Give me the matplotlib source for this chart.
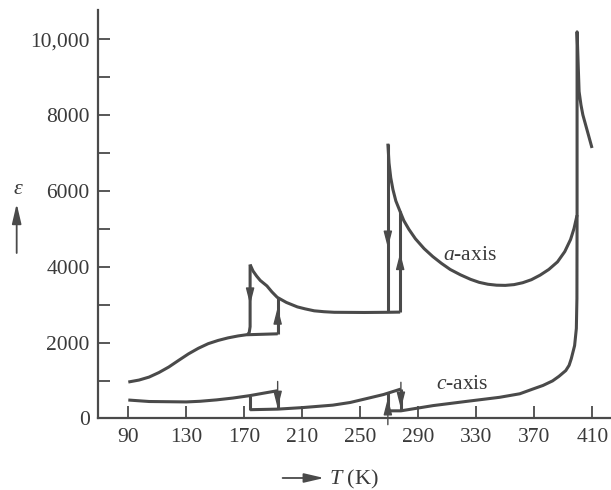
import matplotlib
matplotlib.use("Agg")
import matplotlib.pyplot as plt
from matplotlib.ticker import FixedLocator, FuncFormatter

plt.rcParams['font.family'] = ['Liberation Serif', 'DejaVu Serif']
plt.rcParams['mathtext.fontset'] = 'custom'
plt.rcParams['mathtext.rm'] = 'Liberation Serif'
plt.rcParams['mathtext.it'] = 'Liberation Serif:italic'

# ---------------- data ----------------
# a-axis: low-temperature branch + flat step (heating)
a_low_T   = [90, 97.4, 104.3, 111.1, 117.9, 124.7, 131.5, 138.3, 145.1, 152, 158.8, 165.7, 171.4, 193.0]
a_low_eps = [960, 1012, 1090, 1210, 1356, 1531, 1703, 1850, 1972, 2058, 2125, 2176, 2207, 2232]
# a-axis: cooling drop near 174 K
a_drop1_T   = [174.0, 174.0, 173.4, 172.3]
a_drop1_eps = [4060, 2420, 2270, 2212]
# a-axis: heating jump at 193 K
a_jump1_T   = [193.0, 193.0]
a_jump1_eps = [2232, 3195]
# a-axis: middle branch (174 K peak down to plateau)
a_mid_T   = [174.0, 176.0, 178.5, 181.0, 185.6, 189.0, 192.7, 199.0, 206.6, 212.0,
             218.2, 225.0, 232.0, 252.8, 269.0, 277.5]
a_mid_eps = [4060, 3890, 3755, 3640, 3496, 3340, 3195, 3060, 2942, 2890,
             2839, 2815, 2800, 2795, 2800, 2805]
# a-axis: cooling drop at 269 K (vertical up to peak)
a_drop2_T   = [269.0, 269.0]
a_drop2_eps = [2800, 7250]
# a-axis: heating jump at 277.5 K
a_jump2_T   = [277.5, 277.5]
a_jump2_eps = [2805, 5473]
# a-axis: tetragonal branch up to the Curie peak and beyond
a_high_T   = [269.0, 269.8, 271.0, 272.5, 274.5, 277.3, 280.0, 283.5, 288.0, 294.0, 300.0,
              306.0, 312.0, 319.0, 326.0, 332.0, 338.0, 344.0, 350.0, 356.0, 362.0,
              368.0, 374.0, 380.0, 386.0, 391.0, 395.0, 397.4, 399.5, 399.5,
              400.9, 402.2, 403.5, 407.3, 409.8]
a_high_eps = [7250, 6741, 6350, 6040, 5740, 5473, 5220, 4990, 4740, 4480, 4270,
              4090, 3930, 3790, 3670, 3590, 3540, 3515, 3510, 3530, 3580,
              3660, 3780, 3930, 4130, 4400, 4720, 5011, 5364, 10200,
              8623, 8269, 8008, 7483, 7135]

# c-axis: low-temperature branch (90-193 K)
c_low_T   = [90, 104.4, 116.2, 130, 139.5, 150.9, 162.1, 173.6, 182.7, 193.0]
c_low_eps = [485, 446, 441, 435, 452, 489, 537, 600, 662, 731]
c_drop1_T, c_drop1_eps = [193.0, 193.0], [731, 245]
c_jump1_T, c_jump1_eps = [174.0, 174.0], [230, 600]
# c-axis: middle branch (174-278 K)
c_mid_T   = [174, 193, 210, 231, 243, 254, 266, 278]
c_mid_eps = [230, 245, 285, 350, 420, 520, 630, 775]
c_jump2_T, c_jump2_eps = [269.0, 269.0], [200, 660]
c_drop2_T, c_drop2_eps = [278.0, 278.0], [775, 200]
# c-axis: high-temperature branch
c_high_T   = [269, 278, 300.2, 323.2, 346.1, 360.0, 369.0, 376.0, 382.6, 387.0, 391.7,
              394.0, 395.5, 397.8, 399.0, 399.4, 399.5]
c_high_eps = [200, 200, 338, 449, 557, 650, 775, 870, 990, 1110, 1262,
              1400, 1575, 1921, 2372, 3166, 5364]

# arrow heads: (T, tip eps, direction)
arrow_T   = [174.0, 193.0, 269.0, 277.5, 193.0, 269.0, 278.0]
arrow_eps = [3000, 2930, 4500, 4370, 275, 535, 253]
arrow_dir = [-1, 1, -1, 1, -1, 1, -1]

x_ticks = [90, 130, 170, 210, 250, 290, 330, 370, 410]
y_major = [0, 2000, 4000, 6000, 8000, 10000]
y_minor = [1000, 3000, 5000, 7000, 9000]

# ---------------- figure ----------------
col = '#4a4a4a'
fig = plt.figure(figsize=(6.11, 4.90), dpi=100)
ax = fig.add_axes([0.1604, 0.1461, 0.8396, 0.8335])
ax.set_xlim(69.1, 422.9)
ax.set_ylim(0, 10776)

lw = 2.2
segments = [
    (a_low_T, a_low_eps), (a_drop1_T, a_drop1_eps), (a_jump1_T, a_jump1_eps),
    (a_mid_T, a_mid_eps), (a_drop2_T, a_drop2_eps), (a_jump2_T, a_jump2_eps),
    (a_high_T, a_high_eps),
    (c_low_T, c_low_eps), (c_drop1_T, c_drop1_eps), (c_jump1_T, c_jump1_eps),
    (c_mid_T, c_mid_eps), (c_jump2_T, c_jump2_eps), (c_drop2_T, c_drop2_eps),
    (c_high_T, c_high_eps),
]
for xs, ys in segments:
    ax.plot(xs, ys, color=col, lw=lw, solid_capstyle='butt', solid_joinstyle='round')

for t, e, d in zip(arrow_T, arrow_eps, arrow_dir):
    ax.annotate('', xy=(t, e), xytext=(t, e - d * 700),
                arrowprops=dict(arrowstyle='-|>,head_length=1.25,head_width=0.32',
                                mutation_scale=8, color=col, lw=1.0,
                                shrinkA=0, shrinkB=0))

ax.text(325.7, 4311, r'$a$-axis', fontsize=15.5, color='#3a3a3a', ha='center', va='center')
ax.text(320, 900, r'$c$-axis', fontsize=15.5, color='#3a3a3a', ha='center', va='center')

# axes styling
for s in ['top', 'right']:
    ax.spines[s].set_visible(False)
for s in ['left', 'bottom']:
    ax.spines[s].set_color(col)
    ax.spines[s].set_linewidth(1.6)

ax.xaxis.set_major_locator(FixedLocator(x_ticks))
ax.yaxis.set_major_locator(FixedLocator(y_major))
ax.yaxis.set_minor_locator(FixedLocator(y_minor))
ax.yaxis.set_major_formatter(FuncFormatter(lambda v, p: '10,000' if v >= 10000 else f'{int(v)}'))
ax.tick_params(axis='both', which='both', direction='in', length=8.5, width=1.3,
               colors=col, labelcolor='#3a3a3a', labelsize=15.5)
ax.tick_params(axis='x', pad=7)
ax.tick_params(axis='y', pad=6)

# axis labels with arrows
fig.text(0.0295, 0.614, 'ε', fontsize=16, style='italic', color='#3a3a3a',
         ha='center', va='center')
fig.patches.append(matplotlib.patches.FancyArrowPatch(
    (0.0273, 0.478), (0.0273, 0.590), transform=fig.transFigure,
    arrowstyle='-|>,head_length=1.5,head_width=0.35', mutation_scale=8,
    color=col, lw=1.3))
fig.patches.append(matplotlib.patches.FancyArrowPatch(
    (0.458, 0.0245), (0.535, 0.0245), transform=fig.transFigure,
    arrowstyle='-|>,head_length=1.5,head_width=0.35', mutation_scale=8,
    color=col, lw=1.3))
fig.text(0.539, 0.022, r'$T$ (K)', fontsize=16, color='#3a3a3a', ha='left', va='center')

fig.savefig('out.png', dpi=100, facecolor='white')
